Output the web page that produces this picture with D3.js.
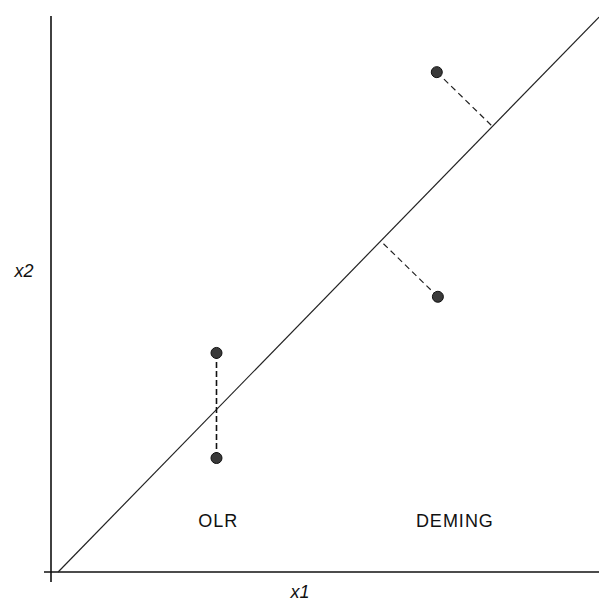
<!DOCTYPE html>
<html>
<head>
<meta charset="utf-8">
<script src="https://cdn.jsdelivr.net/npm/d3@7"></script>
<style>
  body { margin: 0; background: #fff; }
  text { font-family: "Liberation Sans", Arial, sans-serif; fill: #111; }
</style>
</head>
<body>
<div id="chart"></div>
<script>
// fitted line x2 = x1 (in chart units)
let lineEnds = [[1.3, 0], [100, 99.8]]
// OLR pair: vertical residuals
let olrPoints = [[30.2, 39.4], [30.2, 20.5]]
// Deming pair: perpendicular residuals
let demingPoints = [[70.4, 89.9], [70.6, 49.5]]
let methodLabels = [{name: "OLR", x: 30.5}, {name: "DEMING", x: 73.7}]
let axisLabels = {x: "x1", y: "x2"}

let W = 599, H = 604

let svg = d3.select("#chart").append("svg")
  .attr("width", W)
  .attr("height", H)

let xScale = d3.scaleLinear().domain([0, 100]).range([51, 599])
let yScale = d3.scaleLinear().domain([0, 100]).range([572, 16])

// axes (plain lines, no ticks)
svg.append("line")
  .attr("x1", 44).attr("x2", W)
  .attr("y1", yScale(0)).attr("y2", yScale(0))
  .attr("stroke", "#111").attr("stroke-width", 1.6)
svg.append("line")
  .attr("x1", xScale(0)).attr("x2", xScale(0))
  .attr("y1", 16).attr("y2", 582)
  .attr("stroke", "#111").attr("stroke-width", 1.6)

// regression line
svg.append("line")
  .attr("x1", xScale(lineEnds[0][0])).attr("y1", yScale(lineEnds[0][1]))
  .attr("x2", xScale(lineEnds[1][0])).attr("y2", yScale(lineEnds[1][1]))
  .attr("stroke", "#222").attr("stroke-width", 1.2)

// foot of the perpendicular, worked out in pixel space
let p0 = [xScale(lineEnds[0][0]), yScale(lineEnds[0][1])]
let p1 = [xScale(lineEnds[1][0]), yScale(lineEnds[1][1])]
function footOf(px, py) {
  let dx = p1[0] - p0[0], dy = p1[1] - p0[1]
  let t = ((px - p0[0]) * dx + (py - p0[1]) * dy) / (dx * dx + dy * dy)
  return [p0[0] + t * dx, p0[1] + t * dy]
}

// OLR residual: straight between the two points
svg.append("line")
  .attr("x1", xScale(olrPoints[0][0])).attr("y1", yScale(olrPoints[0][1]))
  .attr("x2", xScale(olrPoints[1][0])).attr("y2", yScale(olrPoints[1][1]))
  .attr("stroke", "#111").attr("stroke-width", 1.6)
  .attr("stroke-dasharray", "6,3")

// Deming residuals
svg.selectAll(".deming-res")
  .data(demingPoints)
  .enter().append("line")
  .attr("class", "deming-res")
  .attr("x1", d => xScale(d[0]))
  .attr("y1", d => yScale(d[1]))
  .attr("x2", d => footOf(xScale(d[0]), yScale(d[1]))[0])
  .attr("y2", d => footOf(xScale(d[0]), yScale(d[1]))[1])
  .attr("stroke", "#222").attr("stroke-width", 1.2)
  .attr("stroke-dasharray", "6,4")

// points
svg.selectAll(".point")
  .data(olrPoints.concat(demingPoints))
  .enter().append("circle")
  .attr("class", "point")
  .attr("cx", d => xScale(d[0]))
  .attr("cy", d => yScale(d[1]))
  .attr("r", 5.5)
  .attr("fill", "#3a3a3a")
  .attr("stroke", "#111")
  .attr("stroke-width", 1)

// method labels
svg.selectAll(".method")
  .data(methodLabels)
  .enter().append("text")
  .attr("class", "method")
  .attr("x", d => xScale(d.x))
  .attr("y", 527)
  .attr("text-anchor", "middle")
  .style("font-size", "18px")
  .style("letter-spacing", "1px")
  .text(d => d.name)

// axis labels
svg.append("text")
  .attr("x", 300).attr("y", 598)
  .attr("text-anchor", "middle")
  .style("font-size", "18px")
  .style("font-style", "italic")
  .text(axisLabels.x)
svg.append("text")
  .attr("x", 24).attr("y", 277)
  .attr("text-anchor", "middle")
  .style("font-size", "18px")
  .style("font-style", "italic")
  .text(axisLabels.y)
</script>
</body>
</html>
